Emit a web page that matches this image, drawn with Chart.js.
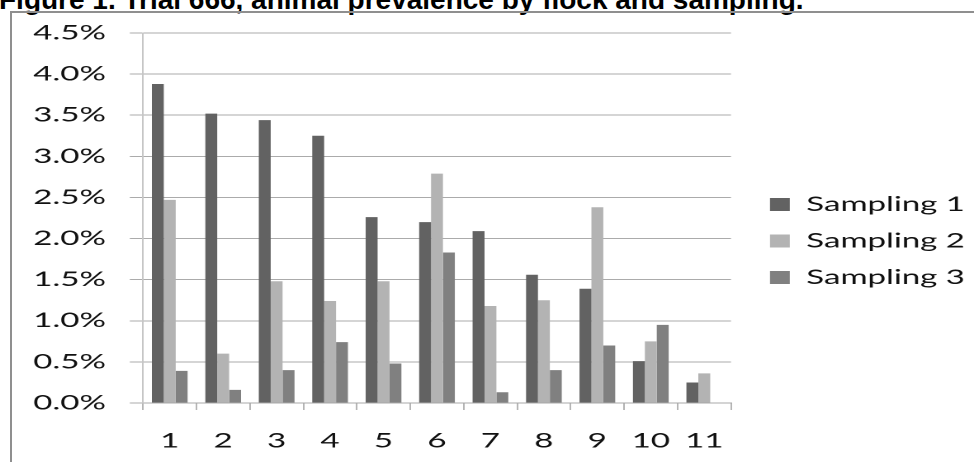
<!DOCTYPE html>
<html lang="en">
  <head>
    <meta charset="UTF-8" />
    <title>Figure 1 - Prevalence by flock</title>
    <script src="https://cdn.jsdelivr.net/npm/chart.js"></script>
    <style>
      body {
        margin: 0;
        width: 974px;
        height: 462px;
        overflow: hidden;
        background: #fff;
        position: relative;
        font-family: "Liberation Sans", Arial, sans-serif;
      }
      .caption {
        position: absolute;
        left: -1px;
        top: -14px;
        font-size: 28px;
        line-height: 28px;
        font-weight: bold;
        white-space: nowrap;
        color: #000;
      }
      .frame {
        position: absolute;
        left: 10px;
        top: 11px;
        width: 2000px;
        height: 1000px;
        border: 2px solid #8f8f8f;
      }
      /* the chart in the figure is a horizontally stretched picture */
      .chart-box {
        position: absolute;
        left: 0;
        top: 0;
        width: 590px;
        height: 462px;
        transform: scaleX(1.6508);
        transform-origin: 0 0;
      }
    </style>
  </head>
  <body>
    <div class="caption">Figure 1. Trial 666, animal prevalence by flock and sampling.</div>
    <div class="frame"></div>
    <div class="chart-box">
      <canvas id="flockChart"></canvas>
    </div>

    <script>
      const flocks = ["1", "2", "3", "4", "5", "6", "7", "8", "9", "10", "11"];
      const sampling1 = [3.88, 3.52, 3.44, 3.25, 2.26, 2.2, 2.09, 1.56, 1.39, 0.51, 0.25];
      const sampling2 = [2.47, 0.6, 1.48, 1.24, 1.48, 2.79, 1.18, 1.25, 2.38, 0.75, 0.36];
      const sampling3 = [0.39, 0.16, 0.4, 0.74, 0.48, 1.83, 0.13, 0.4, 0.7, 0.95, 0];
      const seriesNames = ["Sampling 1", "Sampling 2", "Sampling 3"];
      const seriesColors = ["#626262", "#b3b3b3", "#808080"];
      const yTicks = { min: 0, max: 4.5, step: 0.5 };

      // page x (stretched) -> canvas x
      const W = 590;
      const stretch = 974 / W;
      const px = (v) => v / stretch;

      const tickFont = { family: "Lato", size: 20 };
      const legendPad = 16.5;
      const boxW = 12;
      const plotRight = px(731);
      const gapW = px(770) - plotRight - legendPad;

      // legend width follows its text (Chart.js: padding + box + size/2 + text + 10)
      const mctx = document.createElement("canvas").getContext("2d");
      mctx.font = "20px Lato";
      const textW = Math.max(...seriesNames.map((s) => mctx.measureText(s).width));
      const legendW = legendPad + boxW + tickFont.size / 2 + textW + 10;
      const padRight = W - plotRight - gapW - legendW;

      new Chart(document.getElementById("flockChart"), {
        type: "bar",
        data: {
          labels: flocks,
          datasets: [sampling1, sampling2, sampling3].map((data, i) => ({
            label: seriesNames[i],
            data,
            backgroundColor: seriesColors[i],
          })),
        },
        options: {
          responsive: true,
          maintainAspectRatio: false,
          animation: false,
          devicePixelRatio: 2,
          datasets: {
            bar: { categoryPercentage: 0.668, barPercentage: 1 },
          },
          layout: { padding: { top: 33, bottom: 13, left: 0, right: padRight } },
          plugins: {
            legend: {
              position: "right",
              maxWidth: 400,
              labels: {
                boxWidth: boxW,
                boxHeight: 13,
                padding: legendPad,
                color: "#111",
                font: tickFont,
              },
            },
            tooltip: { enabled: false },
          },
          scales: {
            x: {
              grid: {
                drawOnChartArea: false,
                tickLength: 7,
                color: "#b5b5b5",
              },
              border: { color: "#a8a8a8" },
              ticks: { padding: 19, color: "#111", font: tickFont },
              afterFit: (scale) => {
                scale.height = 46;
              },
            },
            y: {
              min: yTicks.min,
              max: yTicks.max,
              ticks: {
                stepSize: yTicks.step,
                padding: 14.5,
                color: "#111",
                font: tickFont,
                callback: (v) => v.toFixed(1) + "%",
              },
              grid: { color: "#ababab", tickLength: 8 },
              border: { color: "#c6c6c6" },
              afterFit: (scale) => {
                scale.width = px(143);
              },
            },
            gap: {
              type: "linear",
              position: "right",
              grid: { display: false },
              ticks: { display: false },
              border: { display: false },
              afterFit: (scale) => {
                scale.width = gapW;
              },
            },
          },
        },
      });
    </script>
  </body>
</html>
